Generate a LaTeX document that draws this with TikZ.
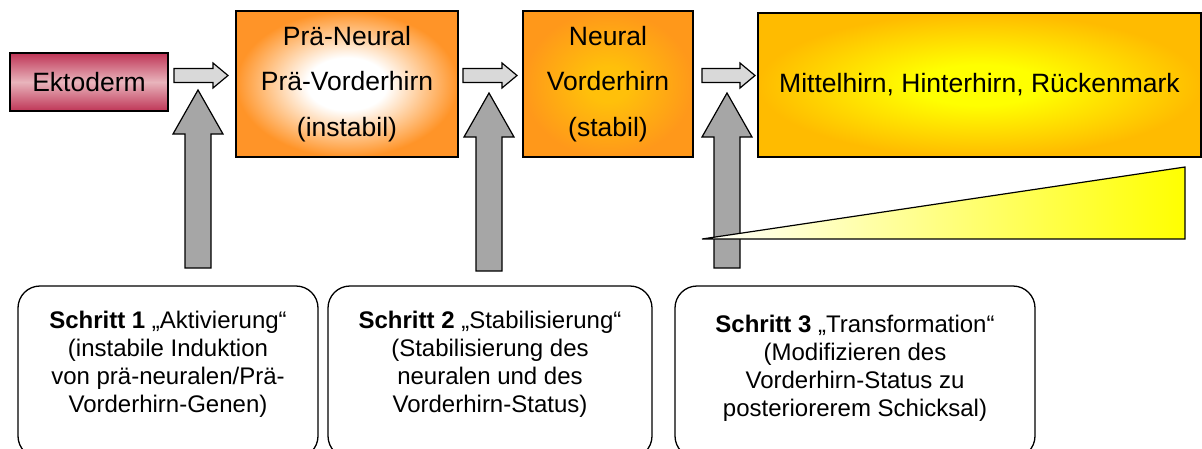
\documentclass[tikz,border=0pt]{standalone}
\usepackage{fontspec}
\setmainfont{Liberation Sans}
\usetikzlibrary{calc}
\definecolor{ekdark}{HTML}{BF3556}
\definecolor{eklight}{HTML}{E8B4BC}
\definecolor{orng}{HTML}{FF9428}
\definecolor{gold}{HTML}{FFC00A}
\definecolor{orngtwo}{HTML}{FF981A}
\definecolor{yel}{HTML}{FFFF00}
\definecolor{bigout}{HTML}{FFBB00}
\definecolor{arrlight}{HTML}{D9D9D9}
\definecolor{arrdark}{HTML}{A6A6A6}
\pgfdeclareradialshading{pnshade}{\pgfpoint{0bp}{0bp}}{color(0bp)=(white); color(9bp)=(white); color(25bp)=(orng); color(50bp)=(orng)}
\pgfdeclareradialshading{nshade}{\pgfpoint{0bp}{0bp}}{color(0bp)=(gold); color(6bp)=(gold); color(25bp)=(orngtwo); color(50bp)=(orngtwo)}
\pgfdeclareradialshading{bigshade}{\pgfpoint{0bp}{0bp}}{color(0bp)=(yel); color(7bp)=(yel); color(25bp)=(bigout); color(50bp)=(bigout)}
\newcommand\myharr[2]{%
  \draw[harrsty] ($(#1)+(0,-7)$) -- ($(#2)+(-15,-7)$) -- ($(#2)+(-15,-12.5)$) -- (#2)
    -- ($(#2)+(-15,12.5)$) -- ($(#2)+(-15,7)$) -- ($(#1)+(0,7)$) -- cycle;}
\newcommand\myuparr[2]{%
  \draw[uparrsty] (#1) -- ($(#1)+(25,44)$) -- ($(#1)+(13,44)$) -- ($(#2)+(13,0)$)
    -- ($(#2)+(-13,0)$) -- ($(#1)+(-13,44)$) -- ($(#1)+(-25,44)$) -- cycle;}
\begin{document}
\begin{tikzpicture}[x=1pt,y=-1pt,
  topbox/.style={draw=black, line width=1.4pt, inner sep=0pt, align=center,
    font=\fontsize{26.5}{45.5}\selectfont},
  harrsty/.style={draw=black, line width=1.2pt, fill=arrlight, line join=miter},
  uparrsty/.style={draw=black, line width=1.2pt, fill=arrdark, line join=miter},
  stepbox/.style={draw=black, line width=1.3pt, rounded corners=22pt},
  steptext/.style={align=center, inner sep=0pt, font=\fontsize{24}{28}\selectfont},
  tri/.style={draw=black, line width=1.2pt, left color=white, right color=yel}]
\useasboundingbox (0,0) rectangle (1202,448);
\clip (0,0) rectangle (1202,448);

% top boxes
\node[topbox, top color=ekdark, bottom color=ekdark, middle color=eklight,
  minimum width=158pt, minimum height=58pt] (ekto) at (89,82) {Ektoderm};
\node[topbox, shading=pnshade, minimum width=222pt, minimum height=146pt]
  (pn) at (347,84) {Prä-Neural\\Prä-Vorderhirn\\(instabil)};
\node[topbox, shading=nshade, minimum width=170pt, minimum height=146pt]
  (neu) at (608,84) {Neural\\Vorderhirn\\(stabil)};
\node[topbox, shading=bigshade, minimum width=443pt, minimum height=144pt]
  (big) at (979.5,85) {Mittelhirn, Hinterhirn, Rückenmark};

% horizontal block arrows
\coordinate (h1s) at (174,75.5); \coordinate (h1e) at (228,75.5);
\coordinate (h2s) at (463,75.5); \coordinate (h2e) at (517,75.5);
\coordinate (h3s) at (702,75.5); \coordinate (h3e) at (755,75.5);
\myharr{h1s}{h1e}
\myharr{h2s}{h2e}
\myharr{h3s}{h3e}

% upward block arrows
\coordinate (u1t) at (198,90);  \coordinate (u1b) at (198,268);
\coordinate (u2t) at (489,93);  \coordinate (u2b) at (489,271);
\coordinate (u3t) at (727,93);  \coordinate (u3b) at (727,268);
\myuparr{u1t}{u1b}
\myuparr{u2t}{u2b}
\myuparr{u3t}{u3b}

% gradient wedge
\coordinate (wl) at (702,239);
\coordinate (wr) at (1185,239);
\coordinate (wt) at (1185,167);
\draw[tri] (wl) -- (wr) -- (wt) -- cycle;

% bottom step boxes
\node[stepbox, minimum width=300pt, minimum height=172pt] (s1) at (168,372) {};
\node[stepbox, minimum width=324pt, minimum height=172pt] (s2) at (490,372) {};
\node[stepbox, minimum width=360pt, minimum height=172pt] (s3) at (855,372) {};
\node[steptext] (s1t) at (168,364) {\textbf{Schritt 1} „Aktivierung“\\(instabile Induktion\\von prä-neuralen/Prä-\\Vorderhirn-Genen)};
\node[steptext] (s2t) at (490,364) {\textbf{Schritt 2} „Stabilisierung“\\(Stabilisierung des\\neuralen und des\\Vorderhirn-Status)};
\node[steptext] (s3t) at (855,368) {\textbf{Schritt 3} „Transformation“\\(Modifizieren des\\Vorderhirn-Status zu\\posteriorerem Schicksal)};
\end{tikzpicture}
\end{document}
